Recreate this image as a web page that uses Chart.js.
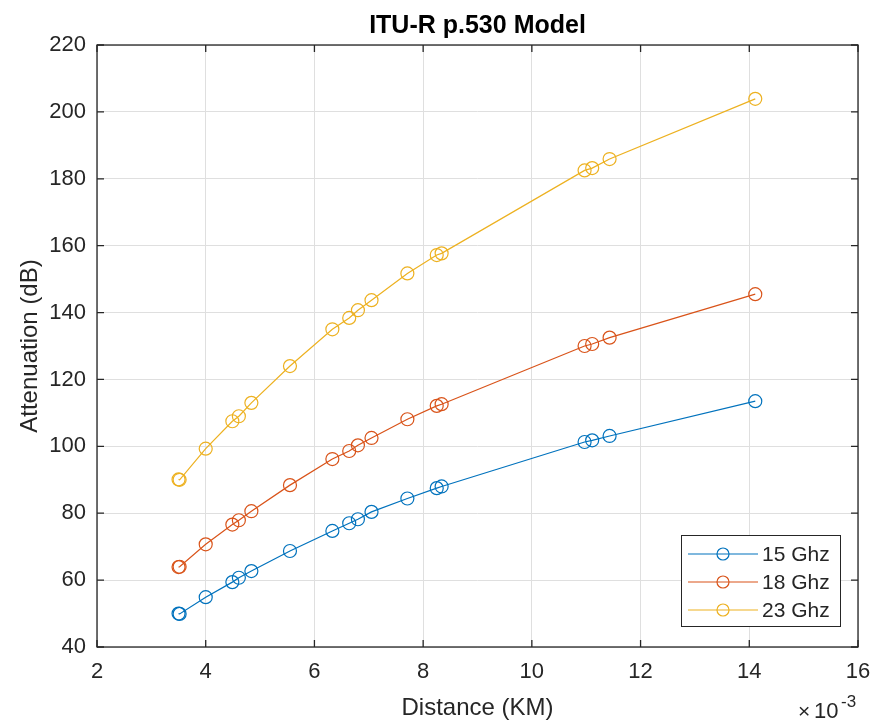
<!DOCTYPE html>
<html lang="en">
<head>
  <meta charset="UTF-8" />
  <title>ITU-R p.530 Model</title>
  <script src="https://cdn.jsdelivr.net/npm/chart.js@4.4.3/dist/chart.umd.js"></script>
  <style>
    *{box-sizing:border-box;margin:0;padding:0}
    html,body{background:#fff;width:874px;height:726px;overflow:hidden}
    #wrap{position:relative;width:874px;height:726px}
  </style>
</head>
<body>
  <div id="wrap"><canvas id="chart" width="874" height="726"></canvas></div>

  <script>
    /* ==== DATA (distance in units of 1e-3 KM) ==== */
    const distance = [3.50, 3.52, 4.00, 4.49, 4.61, 4.84, 5.55, 6.33, 6.64, 6.80, 7.05, 7.71, 8.25, 8.34, 10.97, 11.11, 11.43, 14.11];
    const att15 = [50.0, 49.9, 54.9, 59.4, 60.7, 62.7, 68.7, 74.7, 77.0, 78.2, 80.4, 84.4, 87.5, 88.0, 101.3, 101.8, 103.1, 113.5];
    const att18 = [63.9, 64.0, 70.7, 76.6, 77.9, 80.6, 88.4, 96.2, 98.6, 100.3, 102.5, 108.1, 112.1, 112.6, 130.0, 130.6, 132.5, 145.5];
    const att23 = [90.1, 90.0, 99.3, 107.5, 109.0, 113.0, 124.0, 135.0, 138.4, 140.7, 143.7, 151.7, 157.2, 157.7, 182.5, 183.2, 185.9, 203.9];
    const seriesNames = ['15 Ghz', '18 Ghz', '23 Ghz'];
    const xTicks = [2, 4, 6, 8, 10, 12, 14, 16];
    const yTicks = [40, 60, 80, 100, 120, 140, 160, 180, 200, 220];

    const COLORS = ['#0072BD', '#D95319', '#EDB120'];
    const INK = '#262626';
    const FONT = '"Liberation Sans", Arial, Helvetica, sans-serif';

    const pts = ys => distance.map((x, i) => ({x, y: ys[i]}));

    function ds(label, ys, color){
      return {
        label, data: pts(ys),
        borderColor: color, backgroundColor: 'rgba(0,0,0,0)',
        borderWidth: 1.2, pointRadius: 6.5, pointBorderWidth: 1.2,
        pointBorderColor: color, pointBackgroundColor: 'rgba(0,0,0,0)',
        pointStyle: 'circle', tension: 0
      };
    }

    /* ==== DECORATION: box, inner ticks, titles, legend ==== */
    const matlabDeco = {
      id: 'matlabDeco',
      afterDraw(chart){
        const {ctx, chartArea: a, scales: {x, y}} = chart;
        ctx.save();
        // box
        ctx.strokeStyle = INK; ctx.lineWidth = 1.3;
        ctx.strokeRect(a.left, a.top, a.right - a.left, a.bottom - a.top);
        // inner ticks
        const TL = 7;
        ctx.beginPath();
        xTicks.forEach(v => {
          const px = x.getPixelForValue(v);
          ctx.moveTo(px, a.bottom); ctx.lineTo(px, a.bottom - TL);
          ctx.moveTo(px, a.top); ctx.lineTo(px, a.top + TL);
        });
        yTicks.forEach(v => {
          const py = y.getPixelForValue(v);
          ctx.moveTo(a.left, py); ctx.lineTo(a.left + TL, py);
          ctx.moveTo(a.right, py); ctx.lineTo(a.right - TL, py);
        });
        ctx.stroke();

        // title
        ctx.fillStyle = '#000';
        ctx.textAlign = 'center'; ctx.textBaseline = 'alphabetic';
        ctx.font = 'bold 25px ' + FONT;
        ctx.fillText('ITU-R p.530 Model', (a.left + a.right) / 2, 33);

        // axis titles
        ctx.fillStyle = INK;
        ctx.font = '24px ' + FONT;
        ctx.fillText('Distance (KM)', (a.left + a.right) / 2, 715);
        ctx.save();
        ctx.translate(37, (a.top + a.bottom) / 2);
        ctx.rotate(-Math.PI / 2);
        ctx.fillText('Attenuation (dB)', 0, 0);
        ctx.restore();

        // exponent label
        ctx.textAlign = 'left';
        ctx.font = '21px ' + FONT;
        ctx.fillText('\u00d7', 798, 718);
        ctx.font = '22px ' + FONT;
        ctx.fillText('10', 814, 718);
        ctx.font = '17px ' + FONT;
        ctx.fillText('-3', 841, 707);

        // legend
        const L = {x: 681, y: 535, w: 159, h: 91};
        ctx.fillStyle = '#fff';
        ctx.fillRect(L.x, L.y, L.w, L.h);
        ctx.strokeStyle = INK; ctx.lineWidth = 1;
        ctx.strokeRect(L.x + .5, L.y + .5, L.w, L.h);
        const rows = [554, 582, 610];
        ctx.font = '21px ' + FONT;
        ctx.textBaseline = 'middle';
        seriesNames.forEach((name, i) => {
          const yy = rows[i];
          ctx.strokeStyle = COLORS[i]; ctx.lineWidth = 1.2;
          ctx.beginPath(); ctx.moveTo(688, yy); ctx.lineTo(758, yy); ctx.stroke();
          ctx.beginPath(); ctx.arc(723, yy, 6, 0, Math.PI * 2); ctx.stroke();
          ctx.fillStyle = INK;
          ctx.fillText(name, 762, yy + 1);
        });
        ctx.restore();
      }
    };

    new Chart(document.getElementById('chart').getContext('2d'), {
      type: 'line',
      data: {
        datasets: [ds(seriesNames[0], att15, COLORS[0]), ds(seriesNames[1], att18, COLORS[1]), ds(seriesNames[2], att23, COLORS[2])]
      },
      options: {
        responsive: false, animation: false, devicePixelRatio: 1,
        layout: {padding: {top: 45, right: 16, left: 0, bottom: 0}},
        plugins: {legend: {display: false}, title: {display: false}, tooltip: {enabled: false}},
        scales: {
          x: {
            type: 'linear', min: 2, max: 16,
            afterFit: s => { s.height = 79; s.paddingLeft = 0; s.paddingRight = 0; },
            afterBuildTicks: s => { s.ticks = xTicks.map(v => ({value: v})); },
            grid: {color: '#dfdfdf', lineWidth: 1, drawTicks: false},
            border: {display: false},
            ticks: {color: INK, font: {size: 22, family: FONT}, padding: 12, maxRotation: 0}
          },
          y: {
            type: 'linear', min: 40, max: 220,
            afterFit: s => { s.width = 97; s.paddingTop = 0; s.paddingBottom = 0; },
            afterBuildTicks: s => { s.ticks = yTicks.map(v => ({value: v})); },
            grid: {color: '#dfdfdf', lineWidth: 1, drawTicks: false},
            border: {display: false},
            ticks: {color: INK, font: {size: 22, family: FONT}, padding: 11}
          }
        }
      },
      plugins: [matlabDeco]
    });
  </script>
</body>
</html>
